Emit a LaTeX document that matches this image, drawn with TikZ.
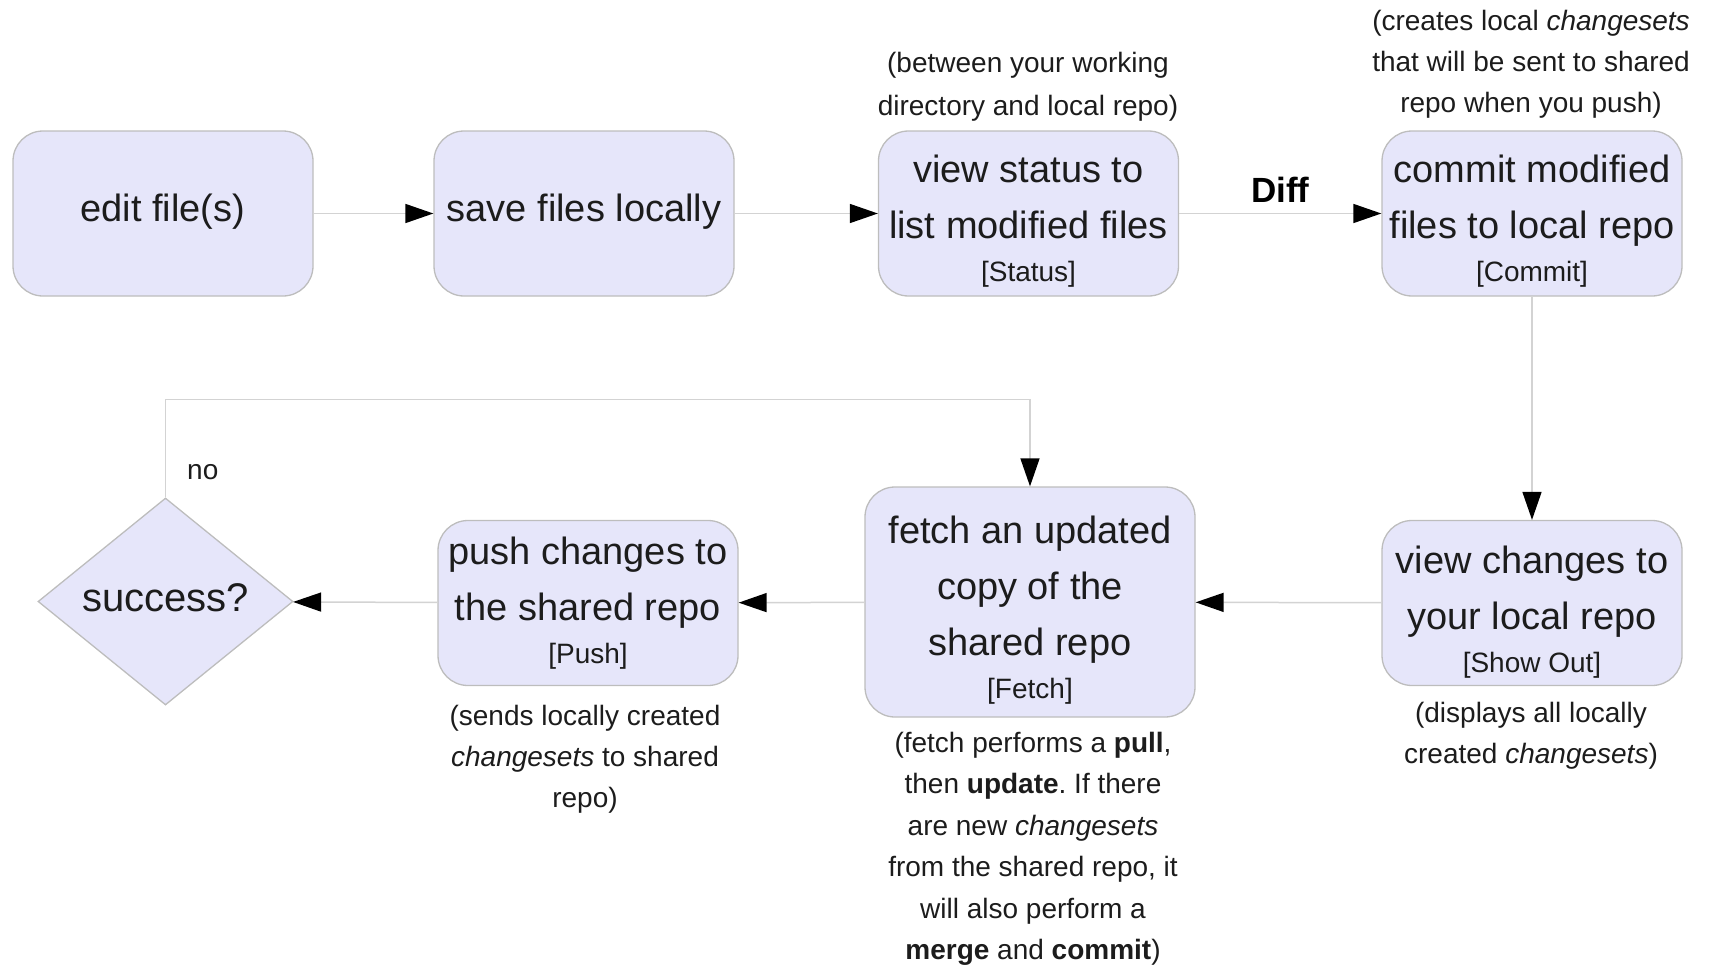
\documentclass[tikz,border=0pt]{standalone}
\usepackage{fontspec}
\setmainfont{Liberation Sans}
\usetikzlibrary{arrows.meta,shapes.geometric}
\frenchspacing
\definecolor{boxfill}{HTML}{E6E6FA}
\definecolor{boxline}{HTML}{BDBDBD}
\definecolor{wire}{HTML}{D3D3D3}
\definecolor{ink}{HTML}{1C1C1C}
\tikzset{
 stepbox/.style={draw=boxline, fill=boxfill, rounded corners=30pt, line width=1.3pt,
   minimum width=300pt, minimum height=165pt, inner sep=0pt, align=center, text=ink,
   font=\fontsize{38}{56}\selectfont},
 decision/.style={diamond, aspect=1.3, draw=boxline, fill=boxfill, line width=1.3pt,
   minimum width=255pt, minimum height=207pt, inner sep=0pt, text=ink,
   font=\fontsize{40}{48}\selectfont},
 note/.style={align=center, text=ink, font=\fontsize{28}{41}\selectfont, inner sep=0pt},
 flow/.style={draw=wire, line width=1.5pt, -{Triangle[length=28pt,width=19pt,color=black]}},
}
\newcommand{\brk}[1]{\\[-13pt]{\fontsize{28}{32}\selectfont #1}}
\newcommand{\topstrut}[1]{\rule{0pt}{#1pt}}
\newcommand{\botstrut}[1]{\rule[-#1pt]{0pt}{#1pt}}
\begin{document}
\begin{tikzpicture}[x=1pt,y=-1pt]
\useasboundingbox (0,0) rectangle (1709,966);
% boxes
\node[stepbox] (edit) at (163,213.5) {edit file(s)\botstrut{12}};
\node[stepbox] (save) at (584,213.5) {save files locally\botstrut{12}};
\node[stepbox] (status) at (1028.5,213.5) {\topstrut{42}view status to\\list modified files\brk{[Status]}};
\node[stepbox] (commit) at (1532,213.5) {\topstrut{42}commit modified\\files to local repo\brk{[Commit]}};
\node[stepbox] (show) at (1532,603) {\topstrut{45}view changes to\\your local repo\brk{[Show Out]}};
\node[stepbox, minimum width=330pt, minimum height=230pt] (fetch) at (1030,602) {\topstrut{44}fetch an updated\\copy of the\\shared repo\brk{[Fetch]}};
\node[stepbox] (push) at (588,603) {push changes to\\the shared repo\brk{[Push]}};
\node[decision] (success) at (165.5,601.5) {success?\botstrut{7}};
% connectors
\draw[flow] (edit) -- (save);
\draw[flow] (save) -- (status);
\draw[flow] (status) -- node[above=10pt, inner sep=0pt, text=black, font=\bfseries\fontsize{35}{40}\selectfont] (diff) {Diff} (commit);
\draw[flow] (commit) -- (show);
\draw[flow] (show) -- (fetch);
\draw[flow] (fetch) -- (push);
\draw[flow] (push) -- (success);
\draw[flow] (success.north) -- ++(0,-98) coordinate (loopA) -| (fetch.north);
\node[note, anchor=west] (no) at (187,472) {no};
% notes
\node[note, font=\fontsize{28}{42.5}\selectfont] (statusnote) at (1028,87) {(between your working\\directory and local repo)};
\node[note] (commitnote) at (1531,64.5) {(creates local \textit{changesets}\\that will be sent to shared\\repo when you push)};
\node[note] (shownote) at (1531,736) {(displays all locally\\created \textit{changesets})};
\node[note] (pushnote) at (585,759) {(sends locally created\\\textit{changesets} to shared\\repo)};
\node[note, font=\fontsize{28}{41.5}\selectfont] (fetchnote) at (1033,849) {(fetch performs a \textbf{pull},\\then \textbf{update}. If there\\are new \textit{changesets}\\from the shared repo, it\\will also perform a\\\textbf{merge} and \textbf{commit})};
\end{tikzpicture}
\end{document}
